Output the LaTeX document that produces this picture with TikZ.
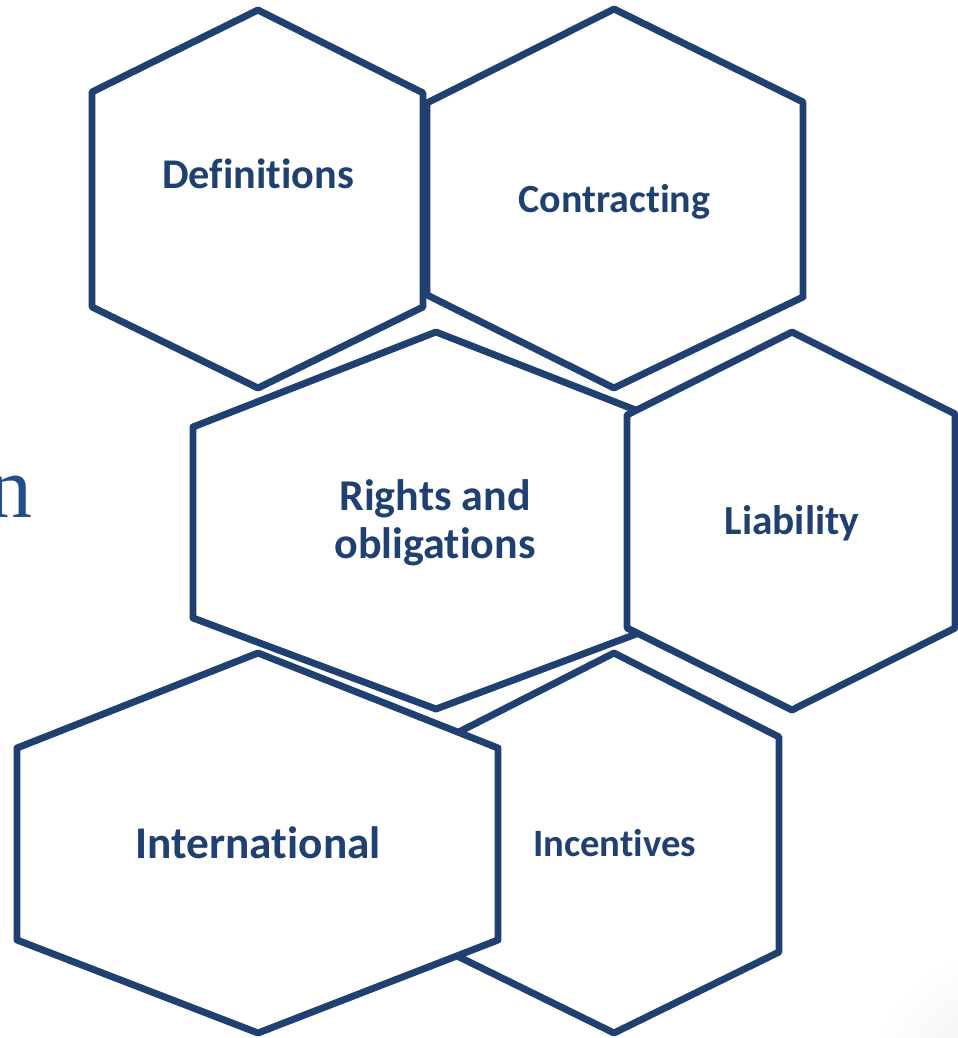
\documentclass[tikz,border=0pt]{standalone}
\usepackage{fontspec}
\setmainfont{Carlito}[RawFeature={-liga;-clig;-dlig}]
\newfontfamily\serifn{Liberation Serif}
\definecolor{hexblue}{RGB}{31,64,112}
\definecolor{nblue}{RGB}{36,78,138}
\begin{document}
\begin{tikzpicture}[x=0.75pt,y=-0.75pt,
  hexa/.style={draw=hexblue,line width=5.2pt,line join=round,fill=white},
  lbl/.style={text=hexblue,font=\bfseries,anchor=base,inner sep=0pt,align=center}]
\useasboundingbox (0,0) rectangle (957,1038);
\fill[white] (0,0) rectangle (957,1038);
\shade[inner color=black!7,outer color=white] (1000,1080) circle (130);
% partial letter at left
\node[anchor=base east,inner sep=0pt,text=nblue,font=\serifn\fontsize{66}{70}\selectfont] (nn) at (33,517) {n};
% Definitions
\draw[hexa] (258,10) -- (423,93) -- (423,307) -- (258,388) -- (92,307) -- (92,92) -- cycle;
\node[lbl,font=\bfseries\fontsize{31.7}{36}\selectfont] (def) at (258,189) {Definitions};
% Contracting
\draw[hexa] (614,9) -- (803,102) -- (803,297) -- (614,388) -- (427,295) -- (427,103) -- cycle;
\node[lbl,font=\bfseries\fontsize{30}{36}\selectfont] (con) at (614.5,212) {Contracting};
% Rights and obligations
\draw[hexa] (436,332) -- (679,427) -- (679,618) -- (436,709) -- (193,618) -- (193,427) -- cycle;
\node[lbl,font=\bfseries\fontsize{33}{36}\selectfont] (rig) at (435,510) {Rights and};
\node[lbl,font=\bfseries\fontsize{33}{36}\selectfont] (obl) at (435,558) {obligations};
% Liability
\draw[hexa] (792,332) -- (955,414) -- (955,628) -- (792,710) -- (627,628) -- (627,415) -- cycle;
\node[lbl,font=\bfseries\fontsize{31}{36}\selectfont] (lia) at (792,534) {Liability};
% Incentives
\draw[hexa] (614,653) -- (779,737) -- (779,952) -- (614,1033) -- (449,952) -- (449,737) -- cycle;
\node[lbl,font=\bfseries\fontsize{29}{34}\selectfont] (inc) at (614.5,856) {Incentives};
% International
\draw[hexa] (258,653) -- (498,748) -- (498,940) -- (258,1033) -- (17,940) -- (17,748) -- cycle;
\node[lbl,font=\bfseries\fontsize{34}{38}\selectfont] (int) at (258,858) {International};
\end{tikzpicture}
\end{document}
